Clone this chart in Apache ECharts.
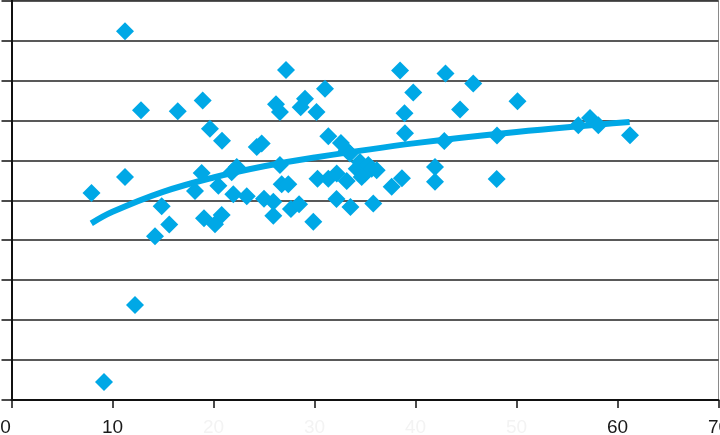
<!DOCTYPE html>
<html>
<head>
<meta charset="utf-8">
<script src="https://cdn.jsdelivr.net/npm/echarts@6/dist/echarts.min.js"></script>
<style>
  html, body { margin: 0; padding: 0; background: #ffffff; }
  #chart { width: 720px; height: 435px; }
</style>
</head>
<body>
<div id="chart"></div>
<script>
// ---- data ----
const xTickLabels = [0, 10, 20, 30, 40, 50, 60, 70];

const pointX = [
  11.24, 7.92, 11.24, 12.82, 12.23, 9.16, 14.87, 14.21, 15.62, 16.46,
  18.93, 19.65, 20.84, 18.17, 18.83, 19.06, 20.15, 20.81, 20.48, 21.96,
  22.30, 21.80, 23.29, 24.28, 24.77, 25.00, 25.92, 25.92, 26.19, 26.58,
  26.58, 26.75, 27.41, 27.18, 27.67, 28.47, 28.63, 29.06, 30.20, 29.88,
  30.30, 31.04, 31.37, 31.37, 32.62, 32.20, 33.19, 33.51, 33.19, 32.18,
  33.56, 34.18, 34.50, 35.33, 35.00, 35.66, 36.16, 34.67, 35.82, 37.64,
  38.66, 38.47, 38.91, 38.96, 39.78, 41.93, 41.93, 42.97, 42.85, 44.41,
  45.72, 48.07, 48.04, 50.10, 56.12, 57.28, 58.10, 61.24
];
const pointY = [
  9.23, 5.18, 5.58, 7.25, 2.38, 0.45, 4.85, 4.10, 4.39, 7.23,
  7.50, 6.79, 6.49, 5.23, 5.68, 4.55, 4.40, 4.63, 5.36, 5.15,
  5.83, 5.70, 5.10, 6.33, 6.42, 5.04, 4.96, 4.61, 7.40, 7.21,
  5.88, 5.40, 5.40, 8.26, 4.78, 4.90, 7.33, 7.54, 7.21, 4.46,
  5.54, 7.79, 6.60, 5.54, 6.43, 5.67, 6.25, 6.17, 5.48, 5.03,
  4.83, 5.79, 5.96, 5.88, 5.67, 5.79, 5.75, 5.58, 4.92, 5.34,
  5.55, 8.25, 7.18, 6.68, 7.70, 5.83, 5.46, 8.17, 6.48, 7.27,
  7.92, 6.62, 5.53, 7.48, 6.88, 7.06, 6.88, 6.63
];

// trend line
const trendX = [7.9, 10, 15, 20, 25, 30, 40, 50, 61.2];
const trendY = [4.42, 4.71, 5.21, 5.57, 5.85, 6.07, 6.43, 6.71, 6.96];

// ---- chart ----
const BLUE = '#00A8E6';
const faintLabels = [20, 30, 40, 50];

const scatterData = pointX.map((x, i) => [x, pointY[i]]);
const trendData = trendX.map((x, i) => [x, trendY[i]]);

const FONT = 'Liberation Sans, Arial, sans-serif';

const chart = echarts.init(document.getElementById('chart'), null, { renderer: 'canvas' });
chart.setOption({
  animation: false,
  backgroundColor: '#ffffff',
  grid: {
    left: 11.5, right: 1.5, top: 0.5, bottom: 35,
    containLabel: false,
    outerBoundsMode: 'none',
    show: true, borderColor: '#8a8a8a', borderWidth: 1
  },
  xAxis: {
    type: 'value',
    min: 0, max: 70, interval: 10,
    axisLine: { show: true, onZero: false, lineStyle: { color: '#111', width: 2 } },
    axisTick: { show: true, length: 8, lineStyle: { color: '#111', width: 1.5 } },
    splitLine: { show: false },
    axisLabel: {
      margin: 18,
      hideOverlap: false,
      formatter: v => {
        if (v === xTickLabels[0]) return '{z|' + v + '}';
        return faintLabels.indexOf(v) >= 0 ? '{f|' + v + '}' : '{d|' + v + '}';
      },
      rich: {
        d: { color: '#1a1a1a', fontSize: 19, fontFamily: FONT },
        z: { color: '#1a1a1a', fontSize: 19, fontFamily: FONT, padding: [0, 12, 0, 0] },
        f: { color: '#f3f3f3', fontSize: 19, fontFamily: FONT }
      }
    },
    data: xTickLabels
  },
  yAxis: {
    type: 'value',
    min: 0, max: 10, interval: 1,
    axisLine: { show: true, onZero: false, lineStyle: { color: '#111', width: 2 } },
    axisTick: { show: true, length: 10, lineStyle: { color: '#111', width: 1.5 } },
    axisLabel: { show: false },
    splitLine: { show: true, lineStyle: { color: '#222', width: 1.5 } }
  },
  series: [
    {
      type: 'line',
      data: trendData,
      smooth: 0.4,
      showSymbol: false,
      lineStyle: { color: BLUE, width: 6 },
      z: 2
    },
    {
      type: 'scatter',
      data: scatterData,
      symbol: 'diamond',
      symbolSize: 18,
      itemStyle: { color: BLUE, opacity: 1 },
      z: 3
    }
  ]
});
</script>
</body>
</html>
